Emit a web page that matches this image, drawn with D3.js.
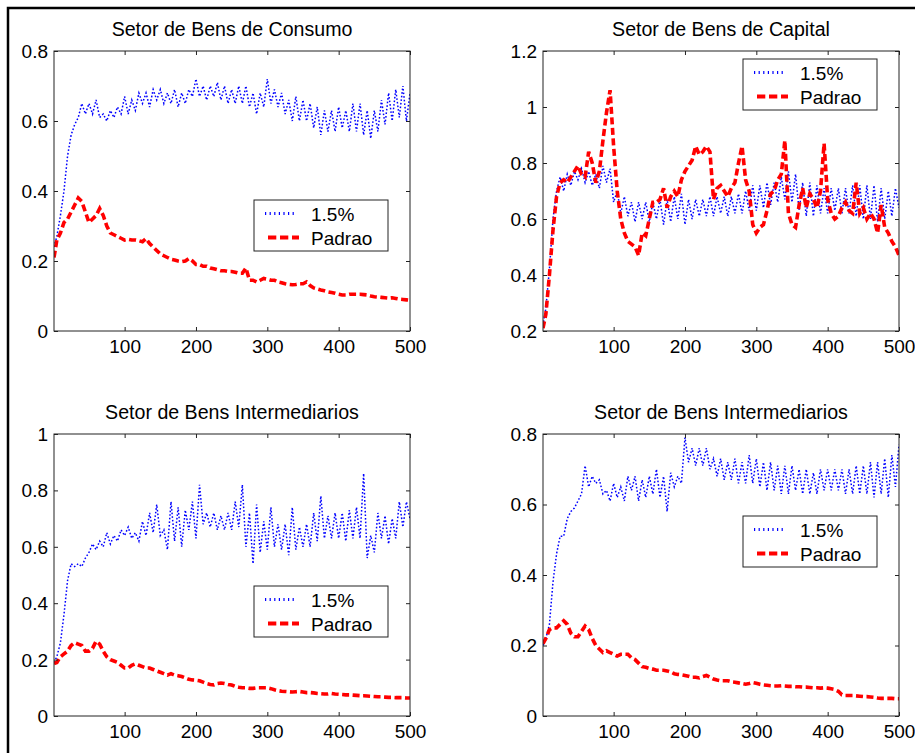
<!DOCTYPE html>
<html>
<head>
<meta charset="utf-8">
<script src="https://cdn.jsdelivr.net/npm/d3@7"></script>
<style>
body { margin: 0; background: #fff; }
text { font-family: "Liberation Sans", Arial, sans-serif; fill: #000; }
</style>
</head>
<body>
<script>
// time steps used for every series: 1, 5, 10, ... 500
var steps = [1].concat(d3.range(5, 501, 5));
var xTicks = [100, 200, 300, 400, 500];
var seriesNames = ["1.5%", "Padrao"];
var titles = ["Setor de Bens de Consumo", "Setor de Bens de Capital",
              "Setor de Bens Intermediarios", "Setor de Bens Intermediarios"];

var yTicksConsumo = [0, 0.2, 0.4, 0.6, 0.8];
var yTicksCapital = [0.2, 0.4, 0.6, 0.8, 1, 1.2];
var yTicksInter1 = [0, 0.2, 0.4, 0.6, 0.8, 1];
var yTicksInter2 = [0, 0.2, 0.4, 0.6, 0.8];

// Setor de Bens de Consumo
var consumoBlue = [
  0.24,0.27,0.33,0.40,0.50,0.56,0.59,0.61,0.65,0.62,
  0.65,0.62,0.66,0.61,0.62,0.60,0.63,0.61,0.64,0.62,
  0.67,0.62,0.66,0.63,0.68,0.65,0.68,0.64,0.69,0.66,
  0.69,0.65,0.68,0.65,0.69,0.64,0.68,0.65,0.69,0.67,
  0.72,0.67,0.70,0.66,0.70,0.67,0.71,0.66,0.70,0.65,
  0.69,0.65,0.70,0.65,0.70,0.64,0.68,0.62,0.68,0.64,
  0.72,0.65,0.69,0.64,0.68,0.62,0.66,0.60,0.67,0.60,
  0.66,0.60,0.65,0.58,0.64,0.56,0.63,0.57,0.63,0.57,
  0.64,0.58,0.63,0.57,0.65,0.57,0.65,0.56,0.63,0.55,
  0.63,0.57,0.66,0.59,0.68,0.60,0.69,0.61,0.70,0.60,
  0.68];
var consumoRed = [
  0.21,0.26,0.28,0.31,0.32,0.34,0.36,0.38,0.37,0.34,
  0.31,0.32,0.33,0.35,0.33,0.30,0.28,0.275,0.27,0.265,
  0.26,0.262,0.26,0.26,0.258,0.255,0.264,0.25,0.24,0.23,
  0.22,0.215,0.21,0.205,0.203,0.20,0.198,0.20,0.207,0.20,
  0.19,0.19,0.185,0.185,0.18,0.178,0.175,0.172,0.172,0.17,
  0.17,0.168,0.165,0.165,0.18,0.145,0.145,0.14,0.145,0.15,
  0.148,0.145,0.145,0.14,0.138,0.135,0.133,0.132,0.133,0.135,
  0.135,0.14,0.13,0.123,0.12,0.117,0.115,0.112,0.11,0.108,
  0.105,0.103,0.103,0.105,0.105,0.105,0.105,0.104,0.103,0.10,
  0.098,0.097,0.096,0.095,0.094,0.095,0.093,0.091,0.09,0.089,
  0.088];

// Setor de Bens de Capital
var capitalBlue = [
  0.22,0.28,0.42,0.60,0.70,0.75,0.70,0.76,0.72,0.77,
  0.74,0.78,0.73,0.77,0.72,0.76,0.71,0.79,0.73,0.78,
  0.66,0.70,0.62,0.68,0.61,0.66,0.59,0.66,0.60,0.66,
  0.59,0.66,0.60,0.67,0.58,0.67,0.59,0.68,0.60,0.69,
  0.58,0.67,0.60,0.67,0.61,0.67,0.61,0.68,0.61,0.68,
  0.62,0.68,0.61,0.68,0.62,0.69,0.62,0.70,0.63,0.72,
  0.63,0.72,0.64,0.73,0.65,0.73,0.66,0.75,0.67,0.77,
  0.66,0.76,0.63,0.73,0.61,0.73,0.61,0.72,0.62,0.71,
  0.62,0.71,0.63,0.71,0.62,0.71,0.62,0.72,0.61,0.72,
  0.60,0.72,0.60,0.72,0.59,0.71,0.60,0.70,0.61,0.71,
  0.64];
var capitalRed = [
  0.21,0.26,0.40,0.56,0.68,0.73,0.74,0.73,0.75,0.77,
  0.79,0.76,0.75,0.84,0.80,0.73,0.77,0.88,0.98,1.06,
  0.86,0.70,0.60,0.55,0.52,0.51,0.50,0.47,0.55,0.54,
  0.60,0.66,0.66,0.67,0.71,0.64,0.68,0.70,0.68,0.74,
  0.77,0.79,0.81,0.86,0.83,0.84,0.86,0.84,0.67,0.71,
  0.72,0.70,0.68,0.71,0.73,0.80,0.86,0.74,0.70,0.58,
  0.55,0.57,0.58,0.63,0.69,0.70,0.74,0.76,0.88,0.62,
  0.58,0.57,0.65,0.71,0.64,0.69,0.67,0.64,0.70,0.87,
  0.67,0.62,0.60,0.61,0.64,0.66,0.63,0.62,0.73,0.62,
  0.64,0.60,0.62,0.60,0.55,0.65,0.57,0.55,0.52,0.50,
  0.47];

// Setor de Bens Intermediarios (left)
var inter1Blue = [
  0.19,0.21,0.26,0.36,0.48,0.54,0.53,0.54,0.53,0.56,
  0.58,0.61,0.59,0.62,0.60,0.65,0.61,0.64,0.62,0.66,
  0.64,0.67,0.63,0.65,0.62,0.69,0.64,0.72,0.65,0.75,
  0.64,0.66,0.59,0.76,0.62,0.74,0.60,0.73,0.66,0.76,
  0.63,0.82,0.68,0.72,0.67,0.72,0.66,0.71,0.66,0.72,
  0.66,0.76,0.67,0.82,0.60,0.72,0.54,0.75,0.58,0.69,
  0.59,0.74,0.60,0.68,0.59,0.68,0.57,0.74,0.59,0.67,
  0.60,0.68,0.60,0.72,0.62,0.78,0.63,0.71,0.63,0.72,
  0.63,0.72,0.62,0.73,0.63,0.74,0.63,0.86,0.56,0.64,
  0.58,0.72,0.63,0.71,0.61,0.70,0.63,0.76,0.67,0.76,
  0.70];
var inter1Red = [
  0.186,0.19,0.21,0.22,0.23,0.25,0.26,0.255,0.25,0.23,
  0.23,0.24,0.265,0.255,0.23,0.21,0.20,0.195,0.19,0.18,
  0.17,0.17,0.18,0.185,0.18,0.175,0.17,0.17,0.165,0.16,
  0.155,0.15,0.145,0.15,0.145,0.143,0.14,0.135,0.13,0.128,
  0.127,0.125,0.12,0.115,0.112,0.11,0.115,0.117,0.115,0.112,
  0.11,0.105,0.102,0.10,0.10,0.098,0.098,0.10,0.10,0.10,
  0.10,0.097,0.093,0.09,0.088,0.087,0.086,0.085,0.086,0.087,
  0.085,0.083,0.083,0.082,0.08,0.079,0.078,0.078,0.08,0.078,
  0.077,0.076,0.075,0.075,0.074,0.073,0.072,0.072,0.071,0.07,
  0.069,0.068,0.068,0.067,0.066,0.066,0.065,0.065,0.065,0.064,
  0.064];

// Setor de Bens Intermediarios (right)
var inter2Blue = [
  0.20,0.22,0.26,0.38,0.46,0.51,0.51,0.56,0.58,0.59,
  0.61,0.63,0.71,0.65,0.68,0.66,0.67,0.63,0.64,0.61,
  0.66,0.62,0.65,0.61,0.68,0.64,0.68,0.61,0.67,0.62,
  0.68,0.63,0.70,0.62,0.68,0.58,0.69,0.65,0.68,0.66,
  0.79,0.72,0.76,0.71,0.76,0.71,0.76,0.70,0.73,0.68,
  0.73,0.67,0.72,0.67,0.73,0.66,0.72,0.66,0.74,0.66,
  0.73,0.65,0.72,0.64,0.72,0.64,0.71,0.63,0.71,0.63,
  0.71,0.64,0.70,0.63,0.70,0.63,0.69,0.63,0.70,0.64,
  0.70,0.64,0.70,0.64,0.70,0.63,0.70,0.63,0.71,0.63,
  0.71,0.63,0.72,0.62,0.72,0.63,0.73,0.62,0.74,0.65,
  0.77];
var inter2Red = [
  0.205,0.22,0.245,0.25,0.25,0.26,0.27,0.26,0.235,0.225,
  0.225,0.24,0.255,0.245,0.22,0.20,0.19,0.18,0.185,0.18,
  0.175,0.17,0.175,0.175,0.175,0.165,0.16,0.15,0.14,0.138,
  0.135,0.133,0.13,0.13,0.13,0.128,0.125,0.12,0.118,0.117,
  0.115,0.113,0.11,0.11,0.108,0.112,0.115,0.11,0.105,0.102,
  0.10,0.10,0.10,0.097,0.096,0.094,0.092,0.09,0.092,0.095,
  0.093,0.09,0.088,0.087,0.086,0.085,0.085,0.086,0.085,0.084,
  0.084,0.083,0.083,0.082,0.082,0.081,0.08,0.08,0.079,0.08,
  0.079,0.077,0.075,0.07,0.06,0.058,0.058,0.058,0.057,0.056,
  0.055,0.055,0.054,0.053,0.051,0.05,0.05,0.05,0.05,0.049,
  0.049];

// layout of the 2x2 grid (pixels), legend offsets inside each axes box
var panels = [
  {title: titles[0], yTicks: yTicksConsumo, series: [consumoBlue, consumoRed], left: 54,  top: 51,  h: 280, legTop: 149},
  {title: titles[1], yTicks: yTicksCapital, series: [capitalBlue, capitalRed], left: 543, top: 51,  h: 280, legTop: 8},
  {title: titles[2], yTicks: yTicksInter1,  series: [inter1Blue, inter1Red],   left: 54,  top: 434, h: 282, legTop: 152},
  {title: titles[3], yTicks: yTicksInter2,  series: [inter2Blue, inter2Red],   left: 543, top: 434, h: 282, legTop: 82}
];
var panelW = 356;

var styles = [
  {color: "#0000ff", width: 1.5, dash: "1.6,2"},  // 1.5%
  {color: "#ff0000", width: 3.6, dash: "7,3.5"}   // Padrao
];

var fmt = d3.format("~g");

var svg = d3.select("body").append("svg").attr("width", 915).attr("height", 753);

// outer figure frame (runs off the right and bottom edges like the original)
svg.append("rect")
    .attr("x", 8).attr("y", 8)
    .attr("width", 1000).attr("height", 1000)
    .attr("fill", "none").attr("stroke", "#000").attr("stroke-width", 2.5);

panels.forEach(function(p, pi){
  var w = panelW, h = p.h;
  var g = svg.append("g").attr("transform", "translate(" + p.left + "," + p.top + ")");

  var x = d3.scaleLinear().domain([1, 500]).range([0, w]);
  var y = d3.scaleLinear().domain([p.yTicks[0], p.yTicks[p.yTicks.length - 1]]).range([h, 0]);

  // clip so the lines stay inside the box
  g.append("clipPath").attr("id", "clip" + pi)
    .append("rect").attr("width", w).attr("height", h);

  var line = d3.line()
      .x(function(d, i){ return x(steps[i]); })
      .y(function(d){ return y(d); });

  p.series.forEach(function(s, si){
    g.append("path")
        .attr("clip-path", "url(#clip" + pi + ")")
        .attr("d", line(s))
        .attr("fill", "none")
        .attr("stroke", styles[si].color)
        .attr("stroke-width", styles[si].width)
        .attr("stroke-dasharray", styles[si].dash);
  });

  // axes: ticks point inward on all four sides, labels only left and bottom
  var bottom = g.append("g").attr("transform", "translate(0," + h + ")")
      .call(d3.axisBottom(x).tickValues(xTicks).tickSize(-4).tickPadding(9).tickFormat(fmt));
  var left = g.append("g")
      .call(d3.axisLeft(y).tickValues(p.yTicks).tickSize(-4).tickPadding(6).tickFormat(fmt));
  var top = g.append("g")
      .call(d3.axisTop(x).tickValues(xTicks).tickSize(-4).tickFormat(""));
  var right = g.append("g").attr("transform", "translate(" + w + ",0)")
      .call(d3.axisRight(y).tickValues(p.yTicks).tickSize(-4).tickFormat(""));

  [bottom, left, top, right].forEach(function(a){
    a.select(".domain").remove();
    a.selectAll("line").attr("stroke", "#222");
    a.selectAll("text").attr("font-size", 19).attr("font-family", "Liberation Sans, Arial, sans-serif").attr("fill", "#000");
  });
  left.selectAll("text").attr("dy", "0.34em");

  g.append("rect")
      .attr("width", w).attr("height", h)
      .attr("fill", "none").attr("stroke", "#222").attr("stroke-width", 1);

  g.append("text")
      .attr("x", w / 2).attr("y", -15.5)
      .attr("text-anchor", "middle")
      .attr("font-size", 19.6)
      .text(p.title);

  // legend box
  var lg = g.append("g").attr("transform", "translate(" + (w - 22 - 134) + "," + p.legTop + ")");
  lg.append("rect").attr("width", 134).attr("height", 51)
      .attr("fill", "#fff").attr("stroke", "#222").attr("stroke-width", 1);
  seriesNames.forEach(function(name, si){
    var ly = 13.5 + si * 24;
    lg.append("line")
        .attr("x1", 11 + si * 3).attr("x2", 43 + si * 2)
        .attr("y1", ly).attr("y2", ly)
        .attr("stroke", styles[si].color)
        .attr("stroke-width", si ? 4 : 3)
        .attr("stroke-dasharray", si ? "8.3,3.7" : "1.2,3.4");
    lg.append("text")
        .attr("x", 57).attr("y", ly + 7)
        .attr("font-size", 19)
        .text(name);
  });
});
</script>
</body>
</html>
